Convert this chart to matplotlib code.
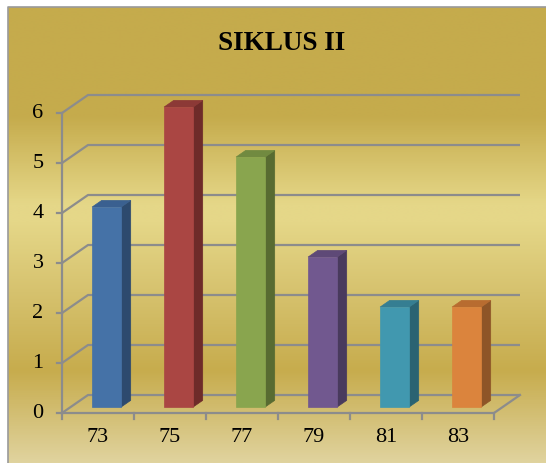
import numpy as np
import matplotlib
matplotlib.use("Agg")
import matplotlib.pyplot as plt
from matplotlib.patches import Polygon
from matplotlib.colors import LinearSegmentedColormap

# ---- data ----
categories = ["73", "75", "77", "79", "81", "83"]
values = [4, 6, 5, 3, 2, 2]
yticks = [0, 1, 2, 3, 4, 5, 6]
title = "SIKLUS II"

front_colors = ["#4572A7", "#AA4643", "#89A54E", "#71588F", "#4198AF", "#DB843D"]
side_colors = ["#2D4A6E", "#6E2B29", "#586B31", "#493A5D", "#2A6372", "#8E5527"]
top_colors = ["#3A6090", "#8C3936", "#718A40", "#5E4977", "#357E92", "#B86C30"]

W, H = 546, 463
fig = plt.figure(figsize=(W / 100, H / 100), dpi=100)
fig.patch.set_facecolor("white")

# background axes (pixel coords)
bg = fig.add_axes([0, 0, 1, 1])
bg.set_xlim(0, W)
bg.set_ylim(H, 0)
bg.axis("off")
stops = [(0, (197, 171, 76)), (110, (197, 171, 76)), (200, (229, 215, 136)),
         (218, (229, 215, 136)), (290, (214, 194, 110)), (370, (199, 172, 77)),
         (463, (224, 211, 158))]
cmap = LinearSegmentedColormap.from_list(
    "gold", [(p / 463, tuple(c / 255 for c in col)) for p, col in stops])
grad = np.linspace(0, 1, 463).reshape(-1, 1)
bg.imshow(grad, cmap=cmap, aspect="auto", extent=(8, W, H, 7), zorder=0,
          interpolation="bilinear")
bg.plot([8, 8, W], [H, 7, 7], color="#9A9A9A", lw=1.2, zorder=1)

# chart axes: data coordinates (category units, value units)
ax = fig.add_axes([0, 0, 1, 1])
ax.patch.set_alpha(0)
ax.axis("off")
x0px, y0px, sx, sy = 62, 413, 72, 50
ax.set_xlim(-x0px / sx, (W - x0px) / sx)
ax.set_ylim((y0px - H) / sy, y0px / sy)

DX, DY = 26 / sx, 18 / sy
n = len(categories)
ymax = max(yticks)

def P(x, y, d):
    return (x + d * DX, y + d * DY)

grid_c = "#8C8C8C"
lw = 1.6
for v in yticks:
    pts = [P(0, v, 0), P(0, v, 1), P(n, v, 1)]
    ax.plot([p[0] for p in pts], [p[1] for p in pts], color=grid_c, lw=lw,
            zorder=2, solid_capstyle="butt")
    # y tick
    ax.plot([-5 / sx, 0], [v, v], color=grid_c, lw=lw, zorder=2)
    ax.text(-24 / sx, v, str(v), ha="center", va="center",
            fontsize=16, family="Liberation Serif", color="black")

# floor
pts = [P(0, 0, 0), P(n, 0, 0), P(n, 0, 1)]
ax.plot([p[0] for p in pts], [p[1] for p in pts], color=grid_c, lw=lw, zorder=2)
# front vertical axis
ax.plot([0, 0], [0, ymax], color=grid_c, lw=lw, zorder=2)
# x ticks
for i in range(n + 1):
    ax.plot([i, i], [0, -6 / sy], color=grid_c, lw=lw, zorder=2)

# bars
bw = 29 / sx
d0, d1 = 0.33, 0.70
for i, (cat, v) in enumerate(zip(categories, values)):
    xl = i + 0.5 - bw / 2
    xr = i + 0.5 + bw / 2
    front = [P(xl, 0, d0), P(xr, 0, d0), P(xr, v, d0), P(xl, v, d0)]
    side = [P(xr, 0, d0), P(xr, 0, d1), P(xr, v, d1), P(xr, v, d0)]
    top = [P(xl, v, d0), P(xr, v, d0), P(xr, v, d1), P(xl, v, d1)]
    for poly, col in ((side, side_colors[i]), (top, top_colors[i]),
                      (front, front_colors[i])):
        ax.add_patch(Polygon(poly, closed=True, facecolor=col,
                             edgecolor=col, lw=0.5, zorder=5))
    ax.text(i + 0.5, -24 / sy, cat, ha="center", va="center",
            fontsize=16, family="Liberation Serif", color="black")

fig.text(282 / W, 1 - 44 / H, title, ha="center", va="center",
         fontsize=19.5, fontweight="bold", family="Liberation Serif")

fig.savefig("out.png", dpi=100)
